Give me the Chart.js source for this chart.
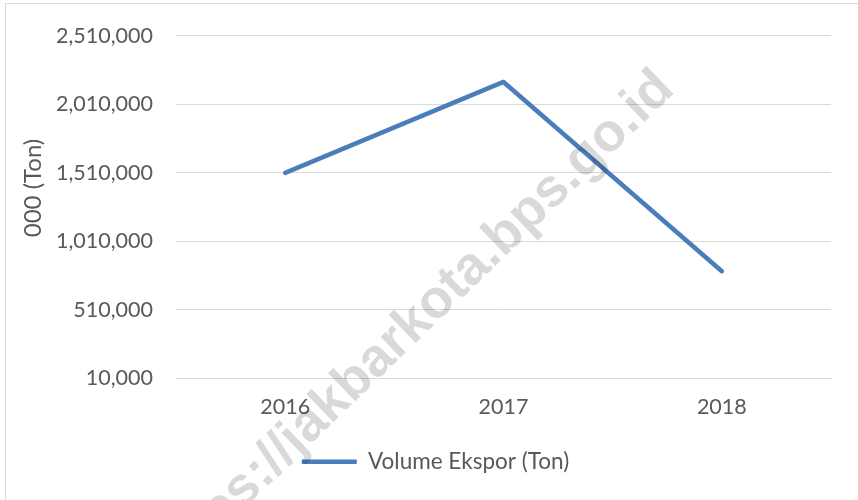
<!DOCTYPE html>
<html>
<head>
<meta charset="utf-8">
<script src="https://cdn.jsdelivr.net/npm/chart.js@4/dist/chart.umd.min.js"></script>
<style>
  html, body { margin: 0; padding: 0; background: #fff; }
  #wrap { width: 858px; height: 500px; }
</style>
</head>
<body>
<div id="wrap"><canvas id="myChart" width="858" height="500"></canvas></div>
<script>
const years = ['2016', '2017', '2018'];
const volumeEkspor = [1510000, 2174000, 793000];
const yTicks = [10000, 510000, 1010000, 1510000, 2010000, 2510000];
const yTitle = '000 (Ton)';

const blue = '#4a7ebb';
const textGray = '#595959';
const gridGray = '#d9d9d9';
const font = 'Lato';

// outer frame, y title (sits a bit above the axis middle), faint site watermark
const framePlugin = {
    id: 'frame',
    afterLayout(chart) {
        // legend in the source sits slightly right of center
        chart.legend.left += 15;
        chart.legend.right += 15;
    },
    beforeDraw(chart) {
        const c = chart.ctx;
        c.save();
        c.strokeStyle = gridGray;
        c.lineWidth = 1;
        c.strokeRect(5.5, 3.5, 1000, 1000);
        c.restore();
    },
    afterDraw(chart) {
        const c = chart.ctx;
        c.save();
        c.translate(33, 188);
        c.rotate(-Math.PI / 2);
        c.font = '24px ' + font;
        c.fillStyle = textGray;
        c.textAlign = 'center';
        c.textBaseline = 'middle';
        c.fillText(yTitle, 0, 0);
        c.restore();

        c.save();
        c.translate(169, 581);
        c.rotate(-44 * Math.PI / 180);
        c.font = 'bold 54px "Liberation Sans"';
        c.fillStyle = 'rgba(0,0,0,0.15)';
        c.textAlign = 'left';
        c.textBaseline = 'alphabetic';
        c.fillText('https://jakbarkota.bps.go.id', 0, 0);
        c.restore();
    }
};

const ctx = document.getElementById('myChart');

new Chart(ctx, {
    type: 'line',
    data: {
        labels: years,
        datasets: [{
            label: 'Volume Ekspor (Ton)',
            data: volumeEkspor,
            borderColor: blue,
            backgroundColor: blue,
            borderWidth: 4.5,
            borderCapStyle: 'round',
            borderJoinStyle: 'round',
            pointRadius: 0,
            tension: 0
        }]
    },
    options: {
        responsive: false,
        animation: false,
        layout: { padding: { top: 33, right: 27, left: 10, bottom: 17 } },
        plugins: {
            legend: {
                position: 'bottom',
                labels: {
                    usePointStyle: true,
                    pointStyle: 'line',
                    pointStyleWidth: 55,
                    color: textGray,
                    padding: 10,
                    font: { family: font, size: 22.5 }
                }
            },
            tooltip: { enabled: false }
        },
        scales: {
            x: {
                offset: true,
                grid: { display: false, drawTicks: false },
                border: { color: gridGray },
                ticks: { color: textGray, padding: 16, font: { family: font, size: 21.5 } },
                afterFit(s) { s.height = 62; }
            },
            y: {
                min: 10000,
                max: 2510000,
                afterBuildTicks(s) { s.ticks = yTicks.map(v => ({ value: v })); },
                grid: { color: gridGray, drawTicks: false },
                border: { display: false },
                ticks: {
                    color: textGray,
                    padding: 23,
                    font: { family: font, size: 21.5 },
                    callback: v => v.toLocaleString('en-US')
                },
                afterFit(s) { s.width = 166; }
            }
        }
    },
    plugins: [framePlugin]
});
</script>
</body>
</html>
